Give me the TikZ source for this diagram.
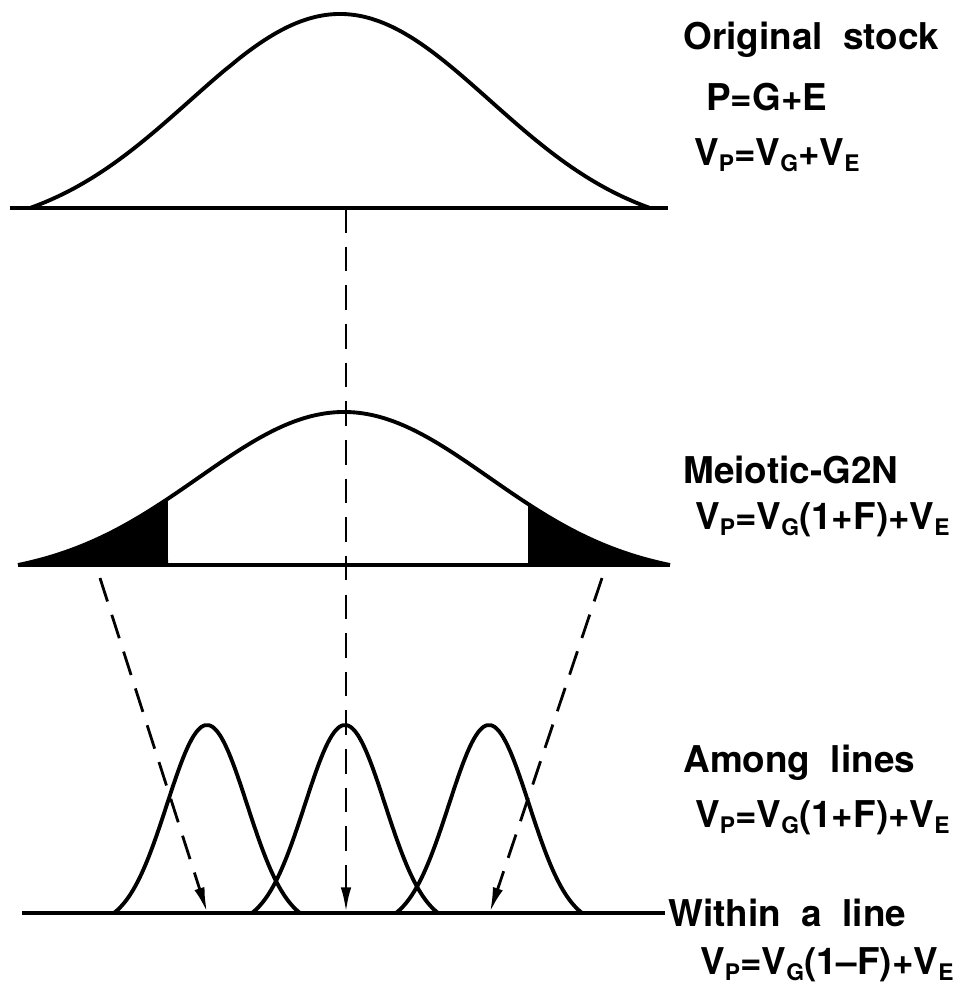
\documentclass[tikz,border=0pt]{standalone}
\usepackage{fontspec}
\setmainfont{TeX Gyre Heros}
\usetikzlibrary{positioning, calc, arrows.meta}

\newcommand{\lsub}[1]{\raisebox{-0.3ex}{\fontsize{13}{14}\selectfont #1}}

\tikzset{
    curve/.style={line width=2.2pt, line join=round},
    base/.style={line width=2.2pt},
    guide/.style={line width=1.6pt, dash pattern=on 14pt off 8pt},
    tip/.style={-{Latex[length=14pt,width=6pt]}},
    label/.style={anchor=west, inner sep=0pt, font=\fontsize{21}{25}\selectfont\bfseries},
    declare function={bell(\t,\s,\T)=(exp(-\t*\t/(2*\s*\s))-exp(-\T*\T/(2*\s*\s)))/(1-exp(-\T*\T/(2*\s*\s)));}
}

\begin{document}
\begin{tikzpicture}[x=0.02cm, y=-0.02cm]
            \useasboundingbox (0,0) rectangle (960,993);

            \coordinate (S0) at (10,208);
            \coordinate (S1) at (668,208);
            \coordinate (M0) at (18,565);
            \coordinate (M1) at (670,565);
            \coordinate (W0) at (22,913);
            \coordinate (W1) at (665,913);

            \coordinate (Stop) at (346,208);
            \coordinate (Mleft) at (100,578);
            \coordinate (Mright) at (602,578);
            \coordinate (Lleft) at (207,912);
            \coordinate (Lmid) at (346,912);
            \coordinate (Lright) at (490,912);

            \draw[curve] plot[domain=-3.1:3.1, samples=90, smooth] ({340+100*\x},{208-194*bell(\x,1.5,3.1)});
            \draw[base] (S0) -- (S1);

            \fill[black] plot[domain=-3.26:-1.76, samples=30, smooth] ({344+100*\x},{565-153*bell(\x,1.45,3.26)}) -- (168,565) -- cycle;
            \fill[black] plot[domain=1.84:3.26, samples=30, smooth] ({344+100*\x},{565-153*bell(\x,1.45,3.26)}) -- (528,565) -- cycle;
            \draw[curve] plot[domain=-3.26:3.26, samples=90, smooth] ({344+100*\x},{565-153*bell(\x,1.45,3.26)});
            \draw[base] (M0) -- (M1);

            \foreach \cx in {207,345,489}
                \draw[curve] plot[domain=-0.93:0.93, samples=50, smooth] ({\cx+100*\x},{913-188*bell(\x,0.4,0.93)});
            \draw[base] (W0) -- (W1);

            \draw[guide, tip] (Stop) -- (Lmid);
            \draw[guide, tip] (Mleft) -- (Lleft);
            \draw[guide, tip] (Mright) -- (Lright);

            \node[label] (orig) at (683,40) {Original\ \ stock};
            \node[label] (pge) at (706,97) {P=G+E};
            \node[label] (vorig) at (694,155) {V\lsub{P}=V\lsub{G}+V\lsub{E}};

            \node[label] (meio) at (683,470) {Meiotic-G2N};
            \node[label] (vmeio) at (695,520) {V\lsub{P}=V\lsub{G}(1+F)+V\lsub{E}};

            \node[label] (among) at (683,763) {Among\ \ lines};
            \node[label] (vamong) at (695,818) {V\lsub{P}=V\lsub{G}(1+F)+V\lsub{E}};

            \node[label] (within) at (668,913) {Within\ \ a\ \ line};
            \node[label] (vwithin) at (700,965) {V\lsub{P}=V\lsub{G}(1--F)+V\lsub{E}};
\end{tikzpicture}
\end{document}
